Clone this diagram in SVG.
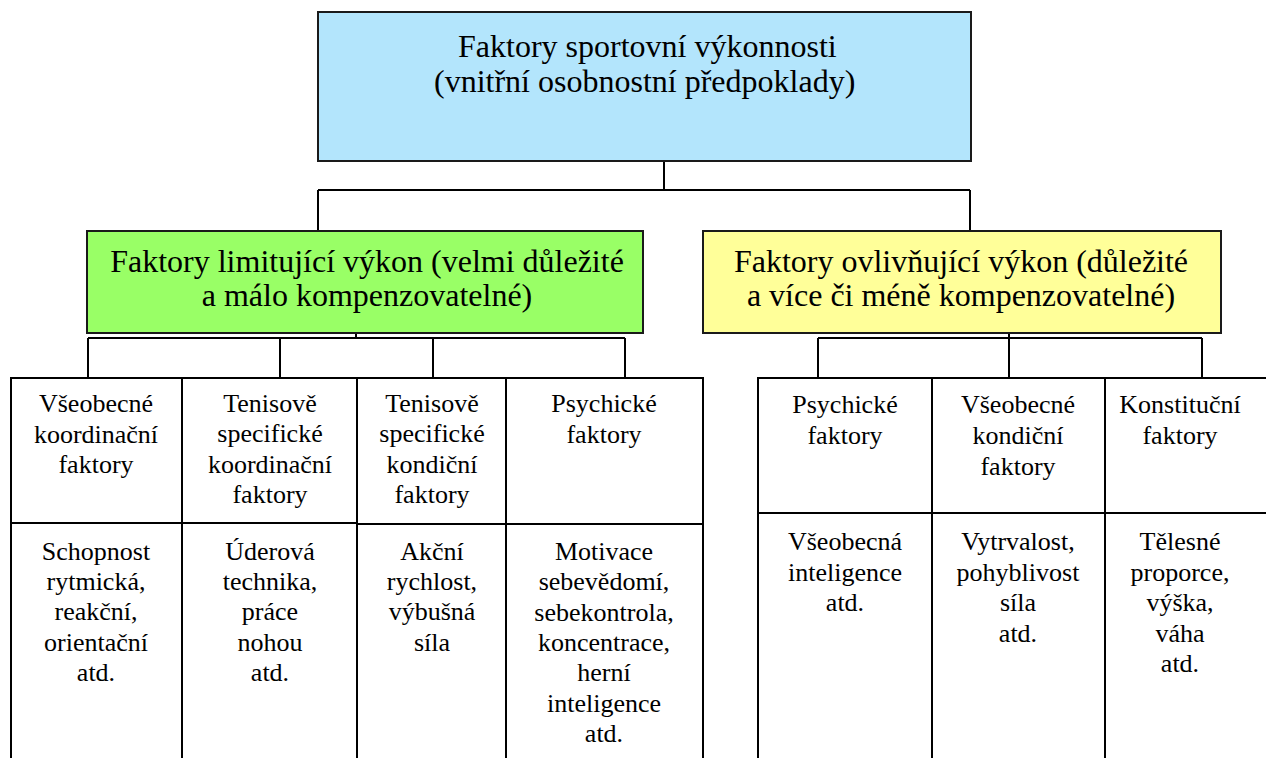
<svg xmlns="http://www.w3.org/2000/svg" width="1266" height="758" viewBox="0 0 1266 758">
<rect width="1266" height="758" fill="#fff"/>
<g id="connectors" stroke="#000" stroke-width="2" fill="none">
<path d="M664 161V190M318 190H970M318 190V231M970 190V231"/>
<path d="M356 333V338M88 338H625M88 338V378M280 338V378M433 338V378M625 338V378"/>
<path d="M818 338H1202M818 338V378M1009 334V378M1202 338V378"/>
</g>
<g id="root">
<rect stroke="#1a1a1a" stroke-width="2" x="318" y="12" width="653" height="149" fill="#B3E5FC"/>
<text font-family="Liberation Serif" font-size="32" x="458" y="57">Faktory sportovní výkonnosti</text>
<text font-family="Liberation Serif" font-size="32" x="434" y="92">(vnitřní osobnostní předpoklady)</text>
</g>
<g id="limiting">
<rect stroke="#1a1a1a" stroke-width="2" x="87" y="231" width="556" height="102" fill="#99FF66"/>
<text font-family="Liberation Serif" font-size="32" text-anchor="middle" x="367" y="272">Faktory limitující výkon (velmi důležité</text>
<text font-family="Liberation Serif" font-size="32" text-anchor="middle" x="367" y="306">a málo kompenzovatelné)</text>
</g>
<g id="influencing">
<rect stroke="#1a1a1a" stroke-width="2" x="703" y="231" width="518" height="102" fill="#FFFF99"/>
<text font-family="Liberation Serif" font-size="32" text-anchor="middle" x="961" y="272">Faktory ovlivňující výkon (důležité</text>
<text font-family="Liberation Serif" font-size="32" text-anchor="middle" x="961" y="306">a více či méně kompenzovatelné)</text>
</g>
<g id="l1-head">
<rect fill="#fff" stroke="#000" stroke-width="2" x="11" y="378" width="171" height="145"/>
<text font-family="Liberation Serif" font-size="26" text-anchor="middle" x="96" y="412">Všeobecné</text>
<text font-family="Liberation Serif" font-size="26" text-anchor="middle" x="96" y="443">koordinační</text>
<text font-family="Liberation Serif" font-size="26" text-anchor="middle" x="96" y="473">faktory</text>
</g>
<g id="l2-head">
<rect fill="#fff" stroke="#000" stroke-width="2" x="182" y="378" width="175" height="145"/>
<text font-family="Liberation Serif" font-size="26" text-anchor="middle" x="270" y="412">Tenisově</text>
<text font-family="Liberation Serif" font-size="26" text-anchor="middle" x="270" y="442">specifické</text>
<text font-family="Liberation Serif" font-size="26" text-anchor="middle" x="270" y="473">koordinační</text>
<text font-family="Liberation Serif" font-size="26" text-anchor="middle" x="270" y="503">faktory</text>
</g>
<g id="l3-head">
<rect fill="#fff" stroke="#000" stroke-width="2" x="357" y="378" width="149" height="146"/>
<text font-family="Liberation Serif" font-size="26" text-anchor="middle" x="432" y="412">Tenisově</text>
<text font-family="Liberation Serif" font-size="26" text-anchor="middle" x="432" y="442">specifické</text>
<text font-family="Liberation Serif" font-size="26" text-anchor="middle" x="432" y="473">kondiční</text>
<text font-family="Liberation Serif" font-size="26" text-anchor="middle" x="432" y="503">faktory</text>
</g>
<g id="l4-head">
<rect fill="#fff" stroke="#000" stroke-width="2" x="506" y="378" width="197" height="146"/>
<text font-family="Liberation Serif" font-size="26" text-anchor="middle" x="604" y="412">Psychické</text>
<text font-family="Liberation Serif" font-size="26" text-anchor="middle" x="604" y="443">faktory</text>
</g>
<g id="l1-body">
<rect fill="#fff" stroke="#000" stroke-width="2" x="11" y="523" width="171" height="245"/>
<text font-family="Liberation Serif" font-size="26" text-anchor="middle" x="96" y="560">Schopnost</text>
<text font-family="Liberation Serif" font-size="26" text-anchor="middle" x="96" y="590">rytmická,</text>
<text font-family="Liberation Serif" font-size="26" text-anchor="middle" x="96" y="620">reakční,</text>
<text font-family="Liberation Serif" font-size="26" text-anchor="middle" x="96" y="651">orientační</text>
<text font-family="Liberation Serif" font-size="26" text-anchor="middle" x="96" y="681">atd.</text>
</g>
<g id="l2-body">
<rect fill="#fff" stroke="#000" stroke-width="2" x="182" y="523" width="175" height="245"/>
<text font-family="Liberation Serif" font-size="26" text-anchor="middle" x="270" y="560">Úderová</text>
<text font-family="Liberation Serif" font-size="26" text-anchor="middle" x="270" y="590">technika,</text>
<text font-family="Liberation Serif" font-size="26" text-anchor="middle" x="270" y="620">práce</text>
<text font-family="Liberation Serif" font-size="26" text-anchor="middle" x="270" y="651">nohou</text>
<text font-family="Liberation Serif" font-size="26" text-anchor="middle" x="270" y="681">atd.</text>
</g>
<g id="l3-body">
<rect fill="#fff" stroke="#000" stroke-width="2" x="357" y="524" width="149" height="244"/>
<text font-family="Liberation Serif" font-size="26" text-anchor="middle" x="432" y="560">Akční</text>
<text font-family="Liberation Serif" font-size="26" text-anchor="middle" x="432" y="590">rychlost,</text>
<text font-family="Liberation Serif" font-size="26" text-anchor="middle" x="432" y="620">výbušná</text>
<text font-family="Liberation Serif" font-size="26" text-anchor="middle" x="432" y="651">síla</text>
</g>
<g id="l4-body">
<rect fill="#fff" stroke="#000" stroke-width="2" x="506" y="524" width="197" height="244"/>
<text font-family="Liberation Serif" font-size="26" text-anchor="middle" x="604" y="560">Motivace</text>
<text font-family="Liberation Serif" font-size="26" text-anchor="middle" x="604" y="590">sebevědomí,</text>
<text font-family="Liberation Serif" font-size="26" text-anchor="middle" x="604" y="621">sebekontrola,</text>
<text font-family="Liberation Serif" font-size="26" text-anchor="middle" x="604" y="651">koncentrace,</text>
<text font-family="Liberation Serif" font-size="26" text-anchor="middle" x="604" y="681">herní</text>
<text font-family="Liberation Serif" font-size="26" text-anchor="middle" x="604" y="712">inteligence</text>
<text font-family="Liberation Serif" font-size="26" text-anchor="middle" x="604" y="742">atd.</text>
</g>
<g id="r1-head">
<rect fill="#fff" stroke="#000" stroke-width="2" x="758" y="378" width="174" height="135"/>
<text font-family="Liberation Serif" font-size="26" text-anchor="middle" x="845" y="413">Psychické</text>
<text font-family="Liberation Serif" font-size="26" text-anchor="middle" x="845" y="444">faktory</text>
</g>
<g id="r2-head">
<rect fill="#fff" stroke="#000" stroke-width="2" x="932" y="378" width="173" height="135"/>
<text font-family="Liberation Serif" font-size="26" text-anchor="middle" x="1018" y="413">Všeobecné</text>
<text font-family="Liberation Serif" font-size="26" text-anchor="middle" x="1018" y="444">kondiční</text>
<text font-family="Liberation Serif" font-size="26" text-anchor="middle" x="1018" y="475">faktory</text>
</g>
<g id="r3-head">
<rect fill="#fff" stroke="#000" stroke-width="2" x="1105" y="378" width="175" height="135"/>
<text font-family="Liberation Serif" font-size="26" text-anchor="middle" x="1180" y="413">Konstituční</text>
<text font-family="Liberation Serif" font-size="26" text-anchor="middle" x="1180" y="444">faktory</text>
</g>
<g id="r1-body">
<rect fill="#fff" stroke="#000" stroke-width="2" x="758" y="513" width="174" height="255"/>
<text font-family="Liberation Serif" font-size="26" text-anchor="middle" x="845" y="550">Všeobecná</text>
<text font-family="Liberation Serif" font-size="26" text-anchor="middle" x="845" y="581">inteligence</text>
<text font-family="Liberation Serif" font-size="26" text-anchor="middle" x="845" y="611">atd.</text>
</g>
<g id="r2-body">
<rect fill="#fff" stroke="#000" stroke-width="2" x="932" y="513" width="173" height="255"/>
<text font-family="Liberation Serif" font-size="26" text-anchor="middle" x="1018" y="550">Vytrvalost,</text>
<text font-family="Liberation Serif" font-size="26" text-anchor="middle" x="1018" y="581">pohyblivost</text>
<text font-family="Liberation Serif" font-size="26" text-anchor="middle" x="1018" y="611">síla</text>
<text font-family="Liberation Serif" font-size="26" text-anchor="middle" x="1018" y="642">atd.</text>
</g>
<g id="r3-body">
<rect fill="#fff" stroke="#000" stroke-width="2" x="1105" y="513" width="175" height="255"/>
<text font-family="Liberation Serif" font-size="26" text-anchor="middle" x="1180" y="550">Tělesné</text>
<text font-family="Liberation Serif" font-size="26" text-anchor="middle" x="1180" y="581">proporce,</text>
<text font-family="Liberation Serif" font-size="26" text-anchor="middle" x="1180" y="611">výška,</text>
<text font-family="Liberation Serif" font-size="26" text-anchor="middle" x="1180" y="642">váha</text>
<text font-family="Liberation Serif" font-size="26" text-anchor="middle" x="1180" y="672">atd.</text>
</g>
</svg>
